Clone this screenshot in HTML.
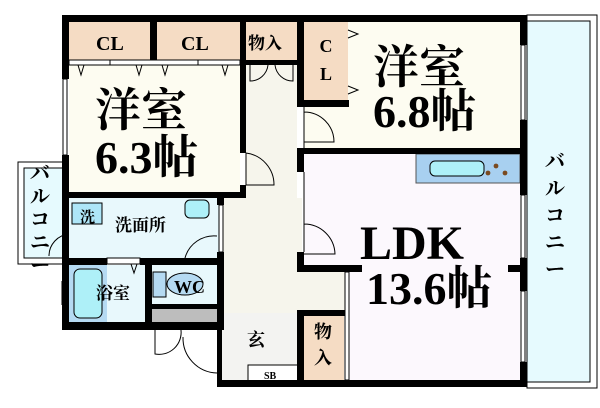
<!DOCTYPE html>
<html><head><meta charset="utf-8"><style>
html,body{margin:0;padding:0;background:#fff;width:600px;height:408px;overflow:hidden}
svg{display:block}
text{font-family:"Liberation Serif","Noto Serif CJK SC",serif}
</style></head><body>
<svg width="600" height="408" viewBox="0 0 600 408" xmlns="http://www.w3.org/2000/svg">
<rect x="18" y="162" width="46" height="102" fill="#fff" stroke="#000" stroke-width="1"/>
<rect x="24" y="168" width="40" height="90" fill="#e6fafe" stroke="#000" stroke-width="1"/>
<rect x="527" y="15" width="70" height="373" fill="#fff" stroke="#000" stroke-width="1"/>
<rect x="527" y="21" width="63" height="361" fill="#e6fafe" stroke="#000" stroke-width="1"/>
<rect x="69" y="22" width="171" height="170" fill="#fdfcf1"/>
<rect x="69" y="22" width="81" height="38" fill="#f5dcc4"/>
<rect x="157" y="22" width="83" height="38" fill="#f5dcc4"/>
<rect x="246" y="22" width="51" height="38" fill="#f5dcc4"/>
<rect x="246" y="60" width="51" height="255" fill="#f6f5ec"/>
<rect x="222" y="198" width="80" height="117" fill="#f6f5ec"/>
<rect x="300" y="270" width="45" height="45" fill="#f6f5ec"/>
<rect x="222" y="313" width="78" height="70" fill="#f3f3f1"/>
<rect x="248" y="365" width="50" height="17" fill="#fff" stroke="#000" stroke-width="1"/>
<rect x="304" y="22" width="216" height="128" fill="#fdfcf1"/>
<rect x="304" y="22" width="44" height="79" fill="#f5dcc4"/>
<rect x="304" y="154" width="216" height="114" fill="#fcf8fd"/>
<rect x="345" y="268" width="175" height="115" fill="#fcf8fd"/>
<rect x="304" y="315" width="40" height="67" fill="#f5dcc4"/>
<rect x="416" y="154" width="104" height="29" fill="#a8d0f0" stroke="#555" stroke-width="1"/>
<rect x="430" y="161" width="54" height="15" rx="5" fill="#aef0f8" stroke="#000"/>
<circle cx="488" cy="173" r="2.4" fill="#7a4a20"/><circle cx="496" cy="166" r="2.4" fill="#7a4a20"/><circle cx="505" cy="173" r="2.4" fill="#7a4a20"/>
<rect x="69" y="198" width="150" height="60" fill="#e8f8fc"/>
<rect x="69" y="265" width="78" height="57" fill="#e8f8fc"/>
<rect x="69" y="265" width="38" height="57" fill="#b5daf2"/>
<rect x="74" y="269" width="28" height="49" rx="6" fill="#aef0f8" stroke="#000"/>
<rect x="152" y="265" width="65" height="40" fill="#e8f8fc"/>
<rect x="152" y="309" width="65" height="13" fill="#bdbdbd"/>
<rect x="72" y="203" width="30" height="21" fill="#aee6f8" stroke="#000"/>
<rect x="185" y="200" width="24" height="18" rx="5" fill="#aef0f8" stroke="#000"/>
<rect x="153" y="272" width="13" height="25" fill="#b5daf2" stroke="#000"/>
<ellipse cx="185" cy="284" rx="18" ry="11" fill="#b5daf2" stroke="#000"/>
<g fill="#000">
<rect x="62" y="15" width="465" height="7"/>
<rect x="62" y="15" width="7" height="64"/>
<rect x="62" y="155" width="7" height="175"/>
<rect x="150" y="22" width="7" height="38"/>
<rect x="240" y="22" width="6" height="43"/>
<rect x="240" y="65" width="6" height="88"/>
<rect x="240" y="185" width="6" height="13"/>
<rect x="62" y="192" width="184" height="6"/>
<rect x="62" y="258" width="45" height="7"/>
<rect x="140" y="258" width="82" height="7"/>
<rect x="145" y="265" width="7" height="60"/>
<rect x="152" y="304" width="66" height="5"/>
<rect x="217" y="198" width="7" height="7"/>
<rect x="217" y="252" width="7" height="78"/>
<rect x="62" y="322" width="160" height="8"/>
<rect x="217" y="330" width="5" height="57"/>
<rect x="217" y="380" width="310" height="7"/>
<rect x="297" y="15" width="7" height="90"/>
<rect x="297" y="100" width="52" height="7"/>
<rect x="297" y="148" width="230" height="6"/>
<rect x="297" y="148" width="7" height="24"/>
<rect x="297" y="252" width="7" height="20"/>
<rect x="297" y="265" width="65" height="7"/>
<rect x="508" y="265" width="19" height="7"/>
<rect x="297" y="310" width="48" height="6"/>
<rect x="297" y="310" width="7" height="77"/>
<rect x="520" y="15" width="7" height="30"/>
<rect x="520" y="120" width="7" height="75"/>
<rect x="520" y="258" width="7" height="33"/>
<rect x="520" y="362" width="7" height="25"/>
<rect x="246" y="60" width="51" height="5"/>
</g>
<g fill="none" stroke="#000" stroke-width="1">
<rect x="69" y="60" width="171" height="5" fill="#fff"/>
<line x1="110" y1="60" x2="110" y2="65"/><line x1="198" y1="60" x2="198" y2="65"/>
<path d="M78 65 l3 10 l3 -10 M136 65 l3 10 l3 -10 M162 65 l3 10 l3 -10 M222 65 l3 10 l3 -10"/>
<path d="M250 65 v16 a18 18 0 0 0 18 -16 M293 65 v16 a18 18 0 0 1 -18 -16"/>
<rect x="63" y="79" width="4" height="76" fill="#fff"/>
<path d="M246 153 v32 M246 153 a32 32 0 0 1 28 32 h-28"/>
<path d="M348 30 l10 4 l-10 4 M348 86 l10 4 l-10 4"/>
<path d="M304 107 v41 M304 112 a30 30 0 0 1 30 30 h-30"/>
<path d="M304 172 v80 M304 224 a31 31 0 0 1 31 30 h-31"/>
<rect x="521" y="45" width="4" height="75" fill="#fff"/>
<rect x="521" y="195" width="4" height="63" fill="#fff"/>
<rect x="521" y="291" width="4" height="71" fill="#fff"/>
<rect x="345" y="272" width="4" height="108" fill="#fff"/>
<rect x="219" y="205" width="4" height="47" fill="#fff"/>
<path d="M217 236 a30 30 0 0 0 -32 22"/>
<rect x="107" y="258" width="33" height="6" fill="#fff"/>
<path d="M131 264 l3 9 l3 -9"/>
<path d="M69 234 a22 22 0 0 0 -20 22 M62 281 v24"/>
<path d="M155 330 v24 a22 22 0 0 0 26 -24 M183 337 a35 35 0 0 0 34 36"/>
</g>
<g font-weight="bold" fill="#000">
<text x="96" y="50" font-size="20">CL</text>
<text x="181" y="50" font-size="20">CL</text>
<text x="248" y="49" font-size="17">物入</text>
<text x="326" y="52" font-size="18" text-anchor="middle">C</text>
<text x="326" y="80" font-size="18" text-anchor="middle">L</text>
<text x="95" y="126" font-size="46">洋室</text>
<text x="95" y="173" font-size="46">6.3帖</text>
<text x="373" y="83" font-size="46">洋室</text>
<text x="373" y="127" font-size="46">6.8帖</text>
<text x="360" y="259" font-size="48">LDK</text>
<text x="366" y="304" font-size="46">13.6帖</text>
<text x="323" y="338" font-size="18" text-anchor="middle">物</text>
<text x="323" y="364" font-size="18" text-anchor="middle">入</text>
<text x="80" y="222" font-size="15">洗</text>
<text x="115" y="231" font-size="17">洗面所</text>
<text x="96" y="299" font-size="17">浴室</text>
<text x="174" y="293" font-size="18">WC</text>
<text x="247" y="346" font-size="18">玄</text>
<text x="264" y="379" font-size="10">SB</text>
</g>
<g font-size="20" font-weight="bold" text-anchor="middle">
<text x="40" y="180">バ</text>
<text x="40" y="203">ル</text>
<text x="40" y="226">コ</text>
<text x="40" y="249">ニ</text>
<text x="40" y="272">ー</text>
<text x="555" y="168">バ</text>
<text x="555" y="195">ル</text>
<text x="555" y="222">コ</text>
<text x="555" y="249">ニ</text>
<text x="555" y="276">ー</text>
</g>
</svg>
</body></html>
